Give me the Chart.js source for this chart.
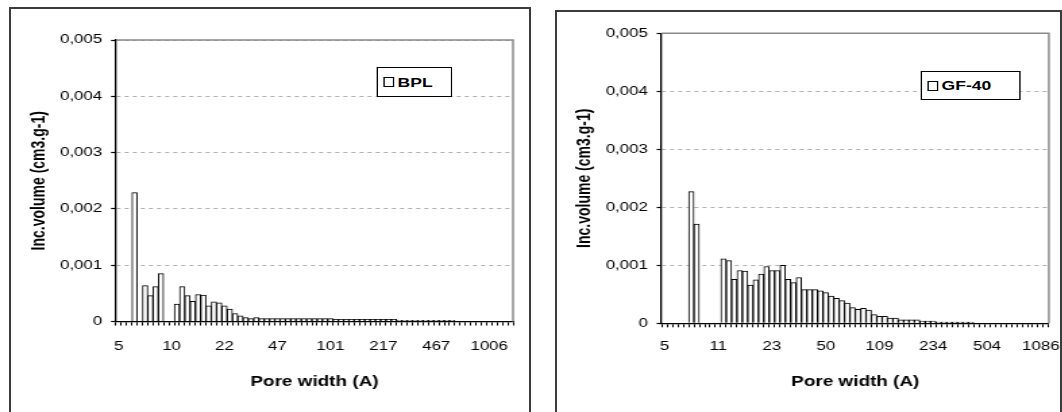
<!DOCTYPE html>
<html><head><meta charset="utf-8">
<script src="https://cdn.jsdelivr.net/npm/chart.js@4.4.0/dist/chart.umd.min.js"></script>
<style>
html,body{margin:0;padding:0;background:#fff;width:1062px;height:412px;overflow:hidden;}
body{position:relative;font-family:"Liberation Sans",Arial,sans-serif;}
.frame{position:absolute;border:2px solid #3c3c3c;box-sizing:border-box;}
.wrap{position:absolute;top:0;height:412px;transform-origin:0 0;}
.wrap canvas{position:absolute;left:0;top:0;}
.legend{position:absolute;border:1px solid #000;background:#fff;box-sizing:border-box;display:flex;align-items:center;font:bold 13px "Liberation Sans",Arial,sans-serif;color:#000;}
.legend i{display:inline-block;width:6px;height:8px;border:1px solid #000;background:#fff;margin:0 3px 0 4px;}
</style></head>
<body>
<div class="frame" style="left:9px;top:7px;width:522px;height:430px;"></div>
<div class="frame" style="left:555px;top:10px;width:507px;height:430px;"></div>

<div class="wrap" id="w1" style="left:0;width:400px;"><canvas id="c1" width="400" height="412"></canvas>
  <div class="legend" id="l1" style="left:278.5px;top:67px;width:56.3px;height:30px;"><i></i>BPL</div></div>
<div class="wrap" id="w2" style="left:540px;width:387px;"><canvas id="c2" width="387" height="412"></canvas>
  <div class="legend" id="l2" style="left:281.5px;top:71px;width:74px;height:29px;"><i></i>GF-40</div></div>

<script>
// ---- data ----
const bplLabels = [5,5,5,6,6,7,7,8,9,9,10,11,12,13,14,15,16,17,19,20,22,23,25,27,29,32,34,37,40,43,47,50,54,59,63,69,74,80,86,93,101,109,117,127,137,148,159,172,186,201,217,234,253,273,294,318,343,371,400,432,467,504,544,587,634,684,739,798,861,930,1006,1086,1173,1266,1367];
const bplValues = [0,0,0,0.00229,0,0.00064,0.00046,0.00062,0.00085,0,0,0.00031,0.00062,0.00046,0.00036,0.00048,0.00047,0.00028,0.00035,0.00033,0.00028,0.00022,0.00014,0.00010,0.00007,0.00005,0.00007,0.00005,0.00005,0.00005,0.00005,0.00005,0.00005,0.00005,0.00005,0.00005,0.00005,0.00005,0.00005,0.00005,0.00005,0.00004,0.00004,0.00004,0.00004,0.00004,0.00004,0.00004,0.00004,0.00004,0.00004,0.00004,0.00004,0.00002,0.00002,0.00002,0.00002,0.00002,0.00002,0.00002,0.00002,0.00002,0.00002,0.00002,0,0,0,0,0,0,0,0,0,0,0];
const gfLabels = [5,5,6,6,7,7,8,9,9,10,11,12,13,14,15,16,17,18,20,21,23,25,27,29,32,34,37,40,43,47,50,54,59,63,68,74,80,86,93,101,109,117,127,137,148,159,172,186,200,216,234,252,272,294,317,343,370,399,431,466,504,544,587,634,684,739,798,861,930,1004,1086,1172];
const gfValues = [0,0,0,0,0,0.00227,0.00171,0,0,0,0,0.00111,0.00108,0.00076,0.00091,0.00090,0.00066,0.00075,0.00085,0.00098,0.00091,0.00091,0.00100,0.00076,0.00070,0.00079,0.00058,0.00058,0.00058,0.00056,0.00053,0.00047,0.00043,0.00039,0.00035,0.00027,0.00024,0.00026,0.00023,0.00015,0.00012,0.00012,0.00009,0.00009,0.00006,0.00006,0.00006,0.00006,0.00004,0.00004,0.00004,0.00002,0.00002,0.00002,0.00002,0.00002,0.00002,0.00002,0,0,0,0,0,0,0,0,0,0,0,0,0,0];
const yTickLabels = ['0','0,001','0,002','0,003','0,004','0,005'];
const labelEvery = 10;
const seriesNames = ['BPL','GF-40'];
const xTitle = 'Pore width (A)';
const yTitle = 'Inc.volume (cm3.g-1)';

// ---- layout (physical px) ----
const S = 1.35;
document.getElementById('w1').style.transform = 'scaleX(' + S + ')';
document.getElementById('w2').style.transform = 'scaleX(' + S + ')';

const frameBorder = {
  id: 'frameBorder',
  afterDraw(chart) {
    const a = chart.chartArea, ctx = chart.ctx;
    ctx.save();
    ctx.strokeStyle = '#8a8a8a';
    ctx.lineWidth = 1.5;
    ctx.beginPath();
    ctx.moveTo(a.left, a.top);
    ctx.lineTo(a.right, a.top);
    ctx.lineTo(a.right, a.bottom);
    ctx.stroke();
    ctx.restore();
  }
};

function makeChart(id, labels, values, name, cfg) {
  const font = {family: '"Liberation Sans", Arial, sans-serif', size: 12.5};
  const tfont = {family: '"Liberation Sans", Arial, sans-serif', size: 14, weight: 'bold'};
  return new Chart(document.getElementById(id), {
    type: 'bar',
    data: {labels: labels, datasets: [{label: name, data: values, backgroundColor: '#ffffff', borderColor: '#000000', borderWidth: 1, barPercentage: 1, categoryPercentage: 1}]},
    options: {
      responsive: false, animation: false, devicePixelRatio: 1,
      layout: {padding: {left: 0, right: cfg.padRight, top: cfg.top, bottom: 0}},
      plugins: {legend: {display: false}, tooltip: {enabled: false}},
      scales: {
        x: {
          offset: true,
          grid: {offset: true, drawOnChartArea: false, drawTicks: true, tickLength: 4, tickColor: '#000', tickWidth: 1},
          border: {display: true, color: '#000', width: 1.3},
          ticks: {autoSkip: false, maxRotation: 0, minRotation: 0, color: '#000', font: font, padding: cfg.xTickPad,
            callback: function(v, i) { return i % labelEvery === 0 ? String(this.chart.data.labels[i]) : ''; }},
          title: {display: true, text: xTitle, color: '#000', font: tfont, padding: {top: 0, bottom: 21.6}},
          afterFit: s => { s.height = cfg.xh; }
        },
        y: {
          min: 0, max: 0.005,
          grid: {color: '#b0b0b0', lineWidth: 1, drawTicks: true, tickLength: 3.7, tickColor: '#000', tickWidth: 1.2, tickBorderDash: []},
          border: {display: true, color: '#000', width: 1.3, dash: [3, 3]},
          ticks: {stepSize: 0.001, color: '#000', font: font, padding: 6.5,
            callback: (v, i) => yTickLabels[Math.round(v * 1000)]},
          title: {display: true, text: yTitle, color: '#000', font: tfont, padding: {top: cfg.yTitlePad, bottom: 0}},
          afterFit: s => { s.width = cfg.yw; }
        }
      }
    },
    plugins: [frameBorder]
  });
}

makeChart('c1', bplLabels, bplValues, seriesNames[0], {padRight: 400 - 513 / S, top: 40, xh: 412 - 321.5, yw: 116 / S, xTickPad: 14, yTitlePad: 40 / S - 8.4});
makeChart('c2', gfLabels, gfValues, seriesNames[1], {padRight: 387 - 511 / S, top: 33.3, xh: 412 - 323.3, yw: 121.7 / S, xTickPad: 12, yTitlePad: 45 / S - 8.4});
</script>
</body></html>
